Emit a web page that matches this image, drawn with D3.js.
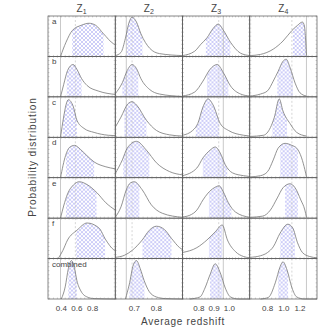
<!DOCTYPE html>
<html>
<head>
<meta charset="utf-8">
<script src="https://cdn.jsdelivr.net/npm/d3@7"></script>
<style>
  body { margin: 0; background: #fff; }
  text { font-family: "Liberation Sans", Arial, sans-serif; fill: #444; }
</style>
</head>
<body>
<div id="chart"></div>
<script>
// rows and columns of the grid
var rowLabels = ["a", "b", "c", "d", "e", "f", "combined"]
var colLabels = ["1", "2", "3", "4"]

var xDomains = [[0.23, 1.09], [0.614, 0.918], [0.693, 1.133], [0.58, 1.41]]
var xTicks = [[0.4, 0.6, 0.8], [0.7, 0.8], [0.8, 0.9, 1.0], [0.8, 1.0, 1.2]]
var xMinor = [0.05, 0.02, 0.02, 0.05]

// solid line (true value) and dashed line per column
var trueZ = [0.39, 0.664, 0.96, 1.28]
var meanZ = [0.58, 0.69, 0.93, 1.1]

// curves: [redshift, relative height] for rows a..f, combined
var z1Curves = [
  [[0.39,0],[0.46,0.35],[0.54,0.64],[0.655,0.77],[0.755,0.82],[0.84,0.77],[0.94,0.56],[1.07,0.31],[1.09,0.29]],
  [[0.39,0],[0.43,0.3],[0.48,0.65],[0.55,0.8],[0.6,0.68],[0.66,0.45],[0.73,0.28],[0.88,0.14],[1.09,0.06]],
  [[0.39,0],[0.43,0.5],[0.46,0.8],[0.49,0.93],[0.555,0.75],[0.6,0.42],[0.69,0.22],[0.82,0.12],[1.0,0.05],[1.09,0.04]],
  [[0.39,0],[0.455,0.55],[0.505,0.75],[0.57,0.8],[0.645,0.7],[0.72,0.56],[0.82,0.39],[0.97,0.27],[1.09,0.22]],
  [[0.39,0],[0.43,0.3],[0.48,0.6],[0.555,0.82],[0.63,0.9],[0.73,0.83],[0.855,0.63],[0.97,0.38],[1.09,0.2]],
  [[0.36,0],[0.42,0.2],[0.48,0.46],[0.6,0.7],[0.73,0.88],[0.88,0.76],[0.97,0.46],[1.07,0.22],[1.09,0.2]],
  [[0.4,0],[0.45,0.3],[0.49,0.75],[0.53,0.95],[0.57,0.75],[0.6,0.45],[0.65,0.2],[0.73,0.05],[0.82,0.01],[1.09,0]]
]
var z2Curves = [
  [[0.614,0.02],[0.64,0.1],[0.66,0.45],[0.677,0.85],[0.69,0.97],[0.71,0.85],[0.73,0.56],[0.77,0.2],[0.814,0.07],[0.918,0.02]],
  [[0.614,0.08],[0.646,0.35],[0.668,0.65],[0.69,0.8],[0.71,0.7],[0.73,0.45],[0.77,0.18],[0.814,0.07],[0.918,0.01]],
  [[0.614,0.25],[0.64,0.5],[0.67,0.82],[0.69,0.88],[0.71,0.8],[0.755,0.42],[0.8,0.17],[0.86,0.06],[0.918,0.03]],
  [[0.614,0.1],[0.646,0.44],[0.668,0.73],[0.71,0.9],[0.755,0.68],[0.8,0.37],[0.86,0.15],[0.918,0.07]],
  [[0.614,0.02],[0.64,0.28],[0.664,0.7],[0.682,0.87],[0.7,0.9],[0.736,0.7],[0.777,0.33],[0.827,0.12],[0.918,0.02]],
  [[0.614,0.03],[0.655,0.08],[0.69,0.2],[0.736,0.46],[0.768,0.7],[0.8,0.8],[0.836,0.72],[0.868,0.5],[0.905,0.27],[0.918,0.22]],
  [[0.66,0],[0.677,0.35],[0.696,0.85],[0.71,0.95],[0.727,0.75],[0.745,0.45],[0.768,0.18],[0.8,0.05],[0.84,0.01],[0.918,0]]
]
var z3Curves = [
  [[0.693,0.02],[0.773,0.13],[0.813,0.3],[0.853,0.46],[0.893,0.69],[0.927,0.8],[0.96,0.65],[1.007,0.35],[1.073,0.08],[1.133,0.02]],
  [[0.693,0.02],[0.773,0.12],[0.827,0.39],[0.873,0.68],[0.92,0.8],[0.96,0.6],[1.007,0.27],[1.073,0.07],[1.133,0.02]],
  [[0.693,0.05],[0.76,0.17],[0.793,0.34],[0.827,0.75],[0.86,0.95],[0.893,0.8],[0.94,0.34],[0.993,0.17],[1.093,0.05],[1.133,0.03]],
  [[0.693,0.05],[0.787,0.24],[0.827,0.49],[0.873,0.68],[0.907,0.76],[0.94,0.61],[0.973,0.32],[1.02,0.12],[1.093,0.05],[1.133,0.03]],
  [[0.693,0.03],[0.74,0.07],[0.787,0.2],[0.827,0.45],[0.86,0.62],[0.9,0.75],[0.933,0.8],[0.96,0.65],[0.993,0.38],[1.04,0.15],[1.133,0.02]],
  [[0.693,0.15],[0.787,0.27],[0.853,0.46],[0.907,0.66],[0.953,0.83],[0.987,0.46],[1.04,0.17],[1.093,0.05],[1.133,0.02]],
  [[0.74,0],[0.807,0.05],[0.84,0.27],[0.873,0.6],[0.907,0.87],[0.94,0.65],[0.973,0.27],[1.007,0.05],[1.06,0],[1.133,0]]
]
var z4Curves = [
  [[0.58,0.02],[0.713,0.05],[0.87,0.18],[0.99,0.38],[1.1,0.64],[1.17,0.77],[1.23,0.85],[1.255,0.75],[1.27,0.4],[1.28,0.02]],
  [[0.58,0.02],[0.713,0.07],[0.8,0.15],[0.87,0.39],[0.93,0.63],[0.99,0.88],[1.03,0.93],[1.08,0.71],[1.14,0.34],[1.2,0.1],[1.28,0.02]],
  [[0.58,0.02],[0.75,0.05],[0.835,0.24],[0.883,0.49],[0.944,0.95],[0.99,0.65],[1.077,0.34],[1.16,0.12],[1.28,0.03]],
  [[0.58,0.02],[0.713,0.05],[0.8,0.15],[0.87,0.44],[0.93,0.73],[1.016,0.85],[1.1,0.8],[1.16,0.73],[1.22,0.49],[1.26,0.2],[1.28,0.02]],
  [[0.58,0.02],[0.74,0.05],[0.835,0.2],[0.92,0.5],[0.99,0.75],[1.077,0.85],[1.14,0.75],[1.21,0.45],[1.26,0.2],[1.28,0.02]],
  [[0.58,0.03],[0.713,0.07],[0.8,0.15],[0.87,0.29],[0.955,0.63],[1.05,0.85],[1.11,0.76],[1.17,0.39],[1.23,0.15],[1.32,0.05],[1.41,0.02]],
  [[0.713,0],[0.81,0.04],[0.895,0.4],[0.955,0.8],[0.99,0.92],[1.04,0.72],[1.1,0.28],[1.16,0.05],[1.25,0],[1.41,0]]
]
var allCurves = [z1Curves, z2Curves, z3Curves, z4Curves]

// hatched interval per panel
var z1Hatch = [[0.54,0.94],[0.47,0.66],[0.42,0.6],[0.46,0.82],[0.46,0.85],[0.59,0.96],[0.49,0.6]]
var z2Hatch = [[0.664,0.737],[0.646,0.718],[0.655,0.755],[0.65,0.768],[0.66,0.723],[0.737,0.868],[0.678,0.746]]
var z3Hatch = [[0.846,1.006],[0.853,0.993],[0.78,0.933],[0.826,0.986],[0.866,1.013],[0.866,0.953],[0.873,0.953]]
var z4Hatch = [[1.113,1.283],[0.92,1.113],[0.86,1.04],[0.956,1.174],[1.016,1.174],[0.956,1.138],[0.93,1.053]]
var allHatch = [z1Hatch, z2Hatch, z3Hatch, z4Hatch]

var W = 331, H = 331
var LEFT = 48, RIGHT = 317, TOP = 16, BOTTOM = 299
var colW = (RIGHT - LEFT) / colLabels.length
var rowH = (BOTTOM - TOP) / rowLabels.length

var svg = d3.select("#chart").append("svg")
  .attr("width", W)
  .attr("height", H)

var defs = svg.append("defs")
var pat = defs.append("pattern")
  .attr("id", "hatch")
  .attr("patternUnits", "userSpaceOnUse")
  .attr("width", 4)
  .attr("height", 4)
pat.append("path").attr("d", "M0,0L4,4M0,4L4,0M-1,1L1,-1M3,5L5,3M-1,3L1,5M3,-1L5,1")
  .attr("stroke", "#a4a4f2").attr("stroke-width", 0.55)

var y = d3.scaleLinear().domain([0, 1]).range([rowH, 0])
var fmt = d3.format(".1f")

colLabels.forEach(function(cl, ci) {
  var x0 = LEFT + ci * colW
  var x = d3.scaleLinear().domain(xDomains[ci]).range([0, colW])

  var line = d3.line().x(function(d) { return x(d[0]) }).y(function(d) { return y(d[1]) })
    .curve(d3.curveMonotoneX)
  var area = d3.area().x(function(d) { return x(d[0]) }).y0(rowH).y1(function(d) { return y(d[1]) })
    .curve(d3.curveMonotoneX)

  rowLabels.forEach(function(rl, ri) {
    var g = svg.append("g").attr("transform", `translate(${x0}, ${TOP + ri * rowH})`)
    var h = allHatch[ci][ri]
    var cid = "clip" + ci + "_" + ri
    defs.append("clipPath").attr("id", cid)
      .append("rect")
      .attr("x", x(h[0])).attr("y", 0)
      .attr("width", x(h[1]) - x(h[0])).attr("height", rowH)

    g.append("path")
      .datum(allCurves[ci][ri])
      .attr("d", area)
      .attr("fill", "url(#hatch)")
      .attr("clip-path", `url(#${cid})`)

    // true value and mean
    g.append("line")
      .attr("x1", x(trueZ[ci])).attr("x2", x(trueZ[ci]))
      .attr("y1", 0).attr("y2", rowH)
      .attr("stroke", "#bbb").attr("stroke-width", 0.8)
    g.append("line")
      .attr("x1", x(meanZ[ci])).attr("x2", x(meanZ[ci]))
      .attr("y1", 0).attr("y2", rowH)
      .attr("stroke", "#c4c4c4").attr("stroke-width", 0.7)
      .attr("stroke-dasharray", "2,2")

    g.append("path")
      .datum(allCurves[ci][ri])
      .attr("d", line)
      .attr("fill", "none")
      .attr("stroke", "#777")
      .attr("stroke-width", 0.8)

    // minor ticks on the frame
    var yt = d3.range(0, 1.001, 0.1)
    yt.forEach(function(v) {
      g.append("line").attr("x1", 0).attr("x2", 1.5).attr("y1", y(v)).attr("y2", y(v))
        .attr("stroke", "#aaa").attr("stroke-width", 0.5)
      g.append("line").attr("x1", colW).attr("x2", colW - 1.5).attr("y1", y(v)).attr("y2", y(v))
        .attr("stroke", "#aaa").attr("stroke-width", 0.5)
    })
    var minor = d3.range(Math.ceil(xDomains[ci][0] / xMinor[ci]) * xMinor[ci], xDomains[ci][1], xMinor[ci])
    minor.forEach(function(v) {
      g.append("line").attr("x1", x(v)).attr("x2", x(v)).attr("y1", rowH).attr("y2", rowH - 1.5)
        .attr("stroke", "#aaa").attr("stroke-width", 0.5)
      g.append("line").attr("x1", x(v)).attr("x2", x(v)).attr("y1", 0).attr("y2", 1.5)
        .attr("stroke", "#aaa").attr("stroke-width", 0.5)
    })

    g.append("rect")
      .attr("width", colW).attr("height", rowH)
      .attr("fill", "none").attr("stroke", "#555").attr("stroke-width", 0.7)

    if (ci == 0) {
      g.append("text")
        .attr("x", 4).attr("y", 8)
        .style("font-size", "8px")
        .text(rl)
    }
  })

  // column header Z_i
  var hdr = svg.append("text")
    .attr("x", x0 + colW / 2).attr("y", 12)
    .attr("text-anchor", "middle")
    .style("font-size", "10px")
  hdr.append("tspan").text("Z")
  hdr.append("tspan").attr("dy", 2).style("font-size", "7px").text(cl)

  // bottom tick labels
  xTicks[ci].forEach(function(t) {
    svg.append("text")
      .attr("x", x0 + x(t)).attr("y", 311)
      .attr("text-anchor", "middle")
      .style("font-size", "8px")
      .text(fmt(t))
  })
})

svg.append("text")
  .attr("transform", "translate(36, 157) rotate(-90)")
  .attr("text-anchor", "middle")
  .style("font-size", "10px")
  .style("letter-spacing", "0.9px")
  .text("Probability distribution")

svg.append("text")
  .attr("x", 183).attr("y", 325)
  .attr("text-anchor", "middle")
  .style("font-size", "10px")
  .style("letter-spacing", "0.7px")
  .text("Average redshift")
</script>
</body>
</html>
